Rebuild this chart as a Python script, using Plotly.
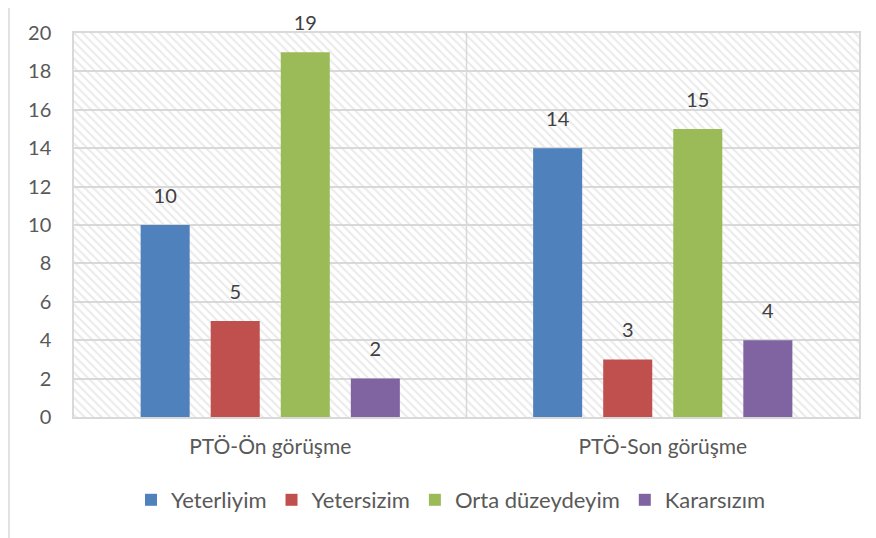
import plotly.graph_objects as go

# data
categories = ["PTÖ-Ön görüşme", "PTÖ-Son görüşme"]
series_names = ["Yeterliyim", "Yetersizim", "Orta düzeydeyim", "Kararsızım"]
yeterliyim = [10, 14]
yetersizim = [5, 3]
orta = [19, 15]
kararsizim = [2, 4]
series_values = [yeterliyim, yetersizim, orta, kararsizim]
colors = ["#4F81BD", "#C0504D", "#9BBB59", "#8064A2"]
y_ticks = list(range(0, 21, 2))

FONT = "Lato"
TXT = "#595959"

# page body has an 8px margin, so everything is shifted by 8px
L, T, PW, PH = 66, 25, 785, 384

fig = go.Figure()

# hatched plot background: one bar over the whole axis range
# (setting offset takes it out of the grouping)
fig.add_trace(go.Bar(
    x=[categories[0]], y=[max(y_ticks)], offset=-0.5, width=len(categories),
    marker=dict(color="rgba(0,0,0,0)", line=dict(width=0),
                pattern=dict(shape="\\", fgcolor="#d6d6d6", bgcolor="rgba(0,0,0,0)",
                             size=6, solidity=0.35)),
    showlegend=False, hoverinfo="skip",
))

for name, vals, col in zip(series_names, series_values, colors):
    fig.add_trace(go.Bar(
        x=categories, y=vals, name=name,
        marker=dict(color=col, line=dict(width=0)),
    ))

# value labels: grouped scatter text, lines up with the bar slots
for name, vals in zip(series_names, series_values):
    fig.add_trace(go.Scatter(
        x=categories, y=vals, mode="markers+text", text=vals,
        textposition="top center", cliponaxis=False,
        marker=dict(size=26, opacity=0),
        textfont=dict(family=FONT, size=20, color="#404040"),
        showlegend=False, hoverinfo="skip",
    ))

# outer chart border (only left and top visible)
bx = (9 - 74) / PW
by = 1 + (33 - 5) / PH
fig.add_shape(type="line", xref="paper", yref="paper", x0=bx, x1=bx, y0=by, y1=-0.5,
              line=dict(color="#d9d9d9", width=1.5))
fig.add_shape(type="line", xref="paper", yref="paper", x0=bx, x1=1.2, y0=by, y1=by,
              line=dict(color="#d9d9d9", width=1.5))
# category divider
fig.add_shape(type="line", xref="x", yref="y", x0=0.5, x1=0.5, y0=0, y1=20,
              line=dict(color="#d9d9d9", width=1.5), layer="below")

fig.update_layout(
    width=876, height=538, autosize=False,
    margin=dict(l=L, r=876 - L - PW, t=T, b=538 - T - PH, autoexpand=False),
    paper_bgcolor="white", plot_bgcolor="white",
    barmode="group", bargap=0.286, bargroupgap=0.3,
    scattermode="group", scattergap=0.286,
    font=dict(family=FONT, size=20, color=TXT),
    xaxis=dict(type="category", range=[-0.5, 1.5],
               showgrid=False, zeroline=False,
               showline=True, mirror=True, linecolor="#d9d9d9", linewidth=1.5,
               ticks="outside", ticklen=10, tickcolor="rgba(0,0,0,0)",
               tickfont=dict(family=FONT, size=21, color=TXT)),
    yaxis=dict(range=[0, 20], tickvals=y_ticks, showgrid=True, gridcolor="#d9d9d9",
               gridwidth=1.5, zeroline=False, showline=True, mirror=True,
               linecolor="#d9d9d9", linewidth=1.5,
               ticks="outside", ticklen=17, tickcolor="rgba(0,0,0,0)",
               tickfont=dict(family=FONT, size=20, color=TXT)),
    legend=dict(orientation="h", x=(451 - 74) / PW, xanchor="center",
                y=(417 - 500) / PH, yanchor="middle", itemwidth=30,
                font=dict(family=FONT, size=22, color=TXT)),
)

fig.write_html("out.html")
